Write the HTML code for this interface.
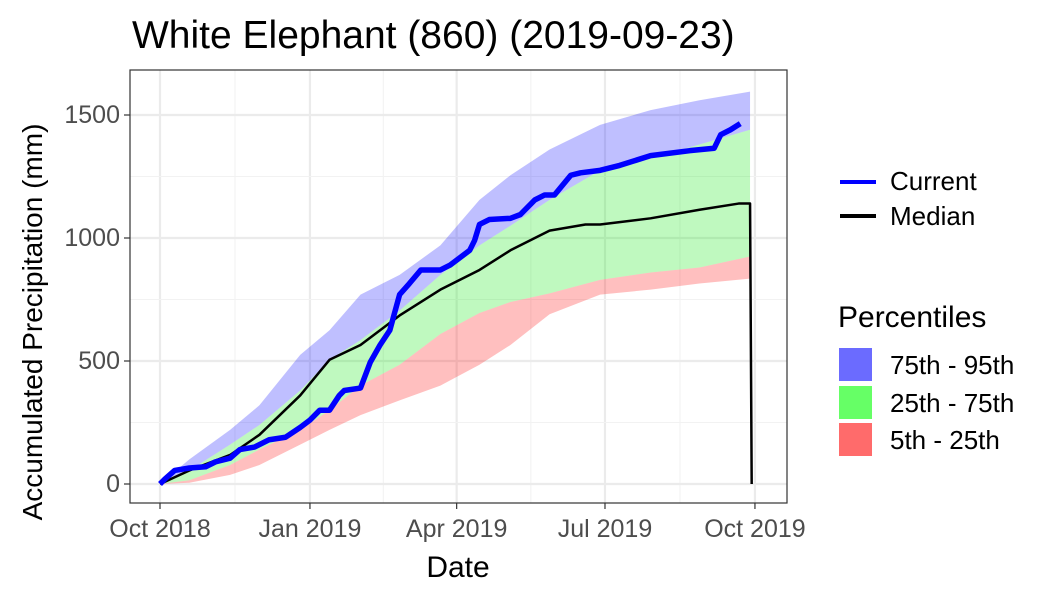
<!DOCTYPE html>
<html><head><meta charset="utf-8"><style>
body{margin:0;background:#fff;font-family:"Liberation Sans",sans-serif}
</style></head><body>
<svg id="chart" width="1050" height="600" xmlns="http://www.w3.org/2000/svg" font-family="Liberation Sans, sans-serif">
<rect width="1050" height="600" fill="#fff"/>
<text x="132" y="48" font-size="39" fill="#000">White Elephant (860) (2019-09-23)</text>
<g id="grid"></g>
<g id="bands"></g>
<g id="lines"></g>
<rect x="130" y="70" width="657" height="433" fill="none" stroke="#333" stroke-width="1.2"/>
<g id="axes"></g>
<text x="458" y="577" font-size="30" text-anchor="middle">Date</text>
<text transform="translate(42,322) rotate(-90)" font-size="28" text-anchor="middle">Accumulated Precipitation (mm)</text>
<g>
<line x1="840" y1="182" x2="876" y2="182" stroke="#0000ff" stroke-width="4"/>
<text x="890" y="190" font-size="26">Current</text>
<line x1="840" y1="216" x2="876" y2="216" stroke="#000" stroke-width="4"/>
<text x="890" y="225" font-size="26">Median</text>
<text x="838" y="327" font-size="30">Percentiles</text>
<rect x="839" y="348" width="33" height="33" fill="#6b6bff"/>
<text x="890" y="374" font-size="26">75th - 95th</text>
<rect x="839" y="386" width="33" height="33" fill="#66ff66"/>
<text x="890" y="412" font-size="26">25th - 75th</text>
<rect x="839" y="423" width="33" height="33" fill="#ff6b6b"/>
<text x="890" y="449" font-size="26">5th - 25th</text>
</g>
</svg>
<script>
const bandDays=[0,18,43,61,86,104,123,147,172,196,215,239,270,301,331,362];
const p95=[0,100,220,320,525,625,770,850,970,1155,1255,1360,1460,1520,1560,1595];
const p75=[0,55,160,240,380,505,585,705,850,970,1050,1155,1275,1325,1380,1440];
const p25=[0,15,77,140,220,300,400,485,610,695,740,775,830,860,880,925];
const p5=[0,5,37,77,160,220,280,340,400,485,565,690,770,790,815,835];
const medDays=[0,18,43,61,86,104,123,147,172,196,215,239,261,270,301,331,355,362,363];
const median=[0,55,118,200,360,505,565,685,790,870,950,1030,1055,1055,1080,1115,1140,1140,0];
const curDays=[0,3,9,18,28,34,43,49,58,67,77,86,92,98,104,110,113,123,129,135,141,147,153,160,172,178,184,190,193,196,202,215,221,230,236,242,252,258,270,282,301,325,340,344,350,356];
const current=[0,20,55,65,70,90,105,140,150,180,190,230,260,300,300,360,380,390,495,565,625,770,815,870,870,890,920,950,990,1055,1075,1080,1095,1155,1175,1175,1255,1265,1275,1295,1335,1355,1365,1420,1440,1465];
const xTickDays=[0,92,182,273,365];
const xTickLabels=["Oct 2018","Jan 2019","Apr 2019","Jul 2019","Oct 2019"];
const yTicks=[0,500,1000,1500];
const NS="http://www.w3.org/2000/svg";
const X=d=>160+d*1.63, Y=v=>484-v*0.246;
function mk(t,a,p){const e=document.createElementNS(NS,t);for(const k in a)e.setAttribute(k,a[k]);p.appendChild(e);return e;}
const grid=document.getElementById('grid'),axes=document.getElementById('axes');
for(let i=0;i<xTickDays.length;i++){
 const l=mk('line',{x1:X(xTickDays[i]),x2:X(xTickDays[i]),y1:70,y2:503,stroke:'#ebebeb','stroke-width':2.2},grid);
 
 
 if(i<xTickDays.length-1){const m=(xTickDays[i]+xTickDays[i+1])/2;
  const n=mk('line',{x1:X(m),x2:X(m),y1:70,y2:503,stroke:'#f2f2f2','stroke-width':1.1},grid);
  
  }
 const t=mk('line',{x1:X(xTickDays[i]),x2:X(xTickDays[i]),y1:503,y2:509,stroke:'#333','stroke-width':1.2},axes);
 
 
 const tx=mk('text',{x:X(xTickDays[i]),y:537,'font-size':25,'text-anchor':'middle',fill:'#4d4d4d'},axes);tx.textContent=xTickLabels[i];
 
 
}
for(let i=0;i<yTicks.length;i++){
 const l=mk('line',{x1:130,x2:787,y1:Y(yTicks[i]),y2:Y(yTicks[i]),stroke:'#ebebeb','stroke-width':2.2},grid);
 
 
 if(i<yTicks.length-1){const m=(yTicks[i]+yTicks[i+1])/2;
  const n=mk('line',{x1:130,x2:787,y1:Y(m),y2:Y(m),stroke:'#f2f2f2','stroke-width':1.1},grid);
  
  }
 const t=mk('line',{x1:124,x2:130,y1:Y(yTicks[i]),y2:Y(yTicks[i]),stroke:'#333','stroke-width':1.2},axes);
 
 
 const tx=mk('text',{x:120,y:Y(yTicks[i])+8,'font-size':25,'text-anchor':'end',fill:'#4d4d4d'},axes);tx.textContent=yTicks[i];
 
 
}
function band(lo,hi,fill,name){
 let d='M'+bandDays.map((x,i)=>X(x)+','+Y(hi[i])).join('L');
 d+='L'+bandDays.map((x,i)=>X(x)+','+Y(lo[i])).reverse().join('L')+'Z';
 const p=mk('path',{d:d,fill:fill},document.getElementById('bands'));
 
 
}
band(p75,p95,'rgba(0,0,255,0.25)','band-75-95');
band(p25,p75,'rgba(0,230,0,0.25)','band-25-75');
band(p5,p25,'rgba(255,0,0,0.25)','band-5-25');
function line(ds,vs,col,w,name){
 const p=mk('polyline',{points:ds.map((x,i)=>X(x)+','+Y(vs[i])).join(' '),fill:'none',stroke:col,'stroke-width':w,'stroke-linejoin':'round'},document.getElementById('lines'));
 
 
}
line(medDays,median,'#000',2.5,'median-line');
line(curDays,current,'#0000ff',5.5,'current-line');
</script>
</body></html>
